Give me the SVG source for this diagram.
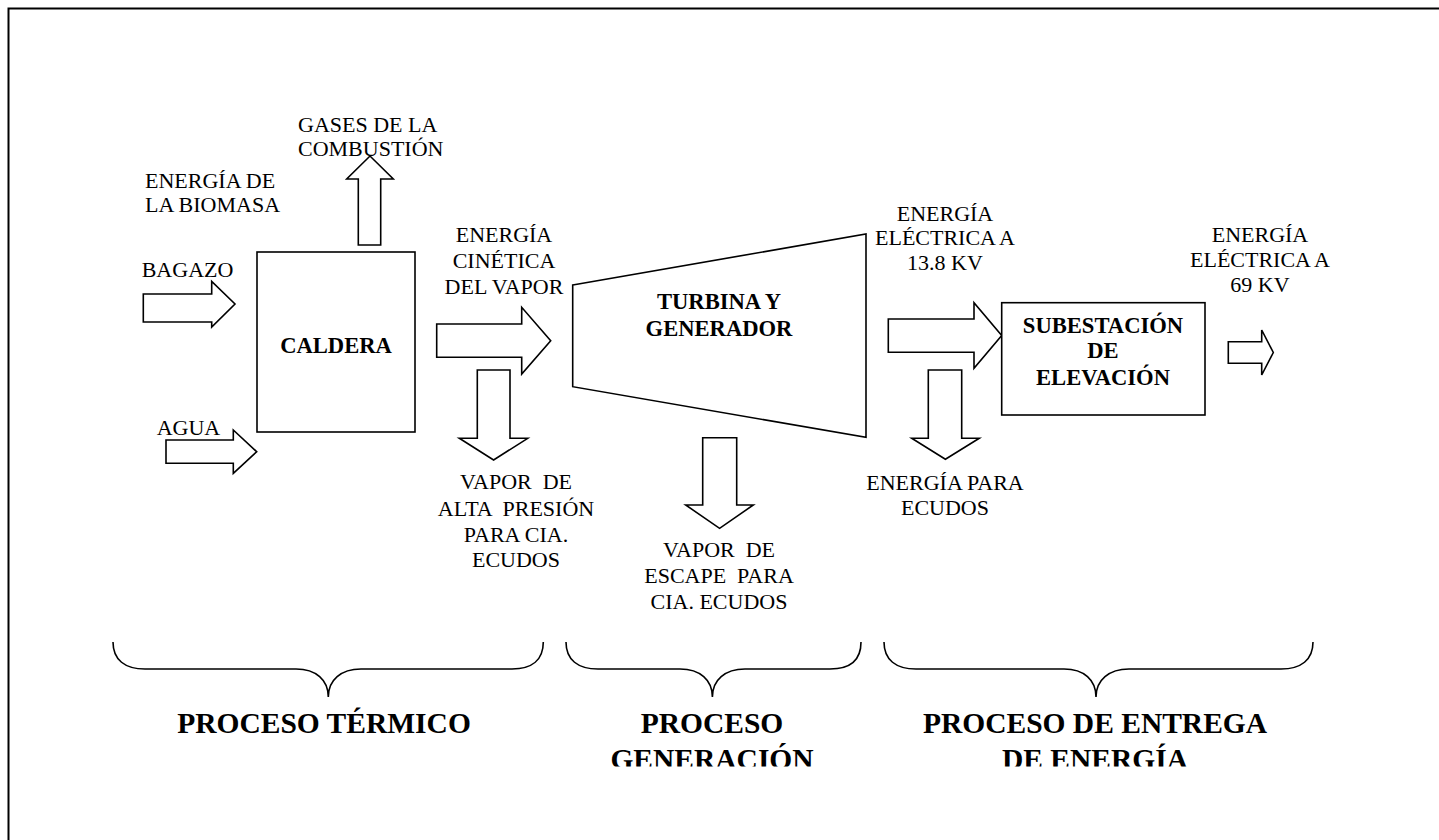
<svg xmlns="http://www.w3.org/2000/svg" width="1439" height="840" viewBox="0 0 1439 840">
<style>
.t{font-family:"Liberation Serif","Times New Roman",serif;font-size:22px;fill:#000}
.b{font-family:"Liberation Serif","Times New Roman",serif;font-size:22.6px;font-weight:bold;fill:#000}
.big{font-family:"Liberation Serif","Times New Roman",serif;font-size:29.5px;font-weight:bold;fill:#000}
.m{text-anchor:middle}
.shape{fill:#fff;stroke:#000;stroke-width:1.6}
.arr{fill:#fff;stroke:#000;stroke-width:1.6;stroke-linejoin:miter}
.brace{fill:none;stroke:#000;stroke-width:1.6}
</style>
<defs>
<clipPath id="clipBottom"><rect x="0" y="600" width="1439" height="166.5"/></clipPath>
</defs>
<rect width="1439" height="840" fill="#fff"/>
<path d="M8.5,840 V8.5 H1439" fill="none" stroke="#000" stroke-width="2"/>

<g id="connectors">
<polygon class="arr" points="358.3,245 358.3,179 346.7,179 370,156 393.3,179 380.7,179 380.7,245"/>
<polygon class="arr" points="143.3,294 211.7,294 211.7,281.5 235,304 211.7,327 211.7,322 143.3,322"/>
<polygon class="arr" points="166,440 233.3,440 233.3,430 256.7,451.7 233.3,473.3 233.3,463.3 166,463.3"/>
<polygon class="arr" points="436.7,324 521.7,324 521.7,307.3 550.7,340.7 521.7,374 521.7,357.3 436.7,357.3"/>
<polygon class="arr" points="477.3,370 510,370 510,438.3 527.7,438.3 493.6,460 459.3,438.3 477.3,438.3"/>
<polygon class="arr" points="702.7,437.7 736.7,437.7 736.7,505 753.3,505 719.6,528.3 685.7,505 702.7,505"/>
<polygon class="arr" points="888.3,319 974,319 974,302.7 1001.7,335.6 974,368.3 974,352.3 888.3,352.3"/>
<polygon class="arr" points="928.3,370 961.7,370 961.7,438.3 979.3,438.3 945.4,459.3 911.7,438.3 928.3,438.3"/>
<polygon class="arr" points="1228.3,341.7 1261.7,341.7 1261.7,330 1273.3,352.5 1261.7,375 1261.7,363.3 1228.3,363.3"/>
</g>

<g id="caldera">
<rect class="shape" x="257" y="252" width="158" height="180"/>
<text class="b m" x="336" y="353">CALDERA</text>
</g>

<g id="turbina">
<polygon class="shape" points="572.7,285 866,234 866,437.3 572.7,386.7"/>
<text class="b m" x="719" y="309.3">TURBINA Y</text>
<text class="b m" x="719" y="336">GENERADOR</text>
</g>

<g id="subestacion">
<rect class="shape" x="1001.7" y="302.7" width="203.3" height="112.3"/>
<text class="b m" x="1103" y="333.3">SUBESTACIÓN</text>
<text class="b m" x="1103" y="358.3">DE</text>
<text class="b m" x="1103" y="385">ELEVACIÓN</text>
</g>

<g id="labels">
<text class="t" x="298" y="131.7">GASES DE LA</text>
<text class="t" x="298" y="155.5">COMBUSTIÓN</text>
<text class="t" x="145" y="188">ENERGÍA DE</text>
<text class="t" x="145" y="211.7">LA BIOMASA</text>
<text class="t" x="141.7" y="276.7">BAGAZO</text>
<text class="t" x="156.7" y="435">AGUA</text>
<text class="t m" x="504" y="241.7">ENERGÍA</text>
<text class="t m" x="504" y="268.3">CINÉTICA</text>
<text class="t m" x="504" y="294.3">DEL VAPOR</text>
<text class="t m" x="516" y="489.3" xml:space="preserve">VAPOR  DE</text>
<text class="t m" x="516" y="516" xml:space="preserve">ALTA  PRESIÓN</text>
<text class="t m" x="516" y="541.7">PARA CIA.</text>
<text class="t m" x="516" y="566.7">ECUDOS</text>
<text class="t m" x="719" y="557.3" xml:space="preserve">VAPOR  DE</text>
<text class="t m" x="719" y="583" xml:space="preserve">ESCAPE  PARA</text>
<text class="t m" x="719" y="608.5">CIA. ECUDOS</text>
<text class="t m" x="945" y="220.5">ENERGÍA</text>
<text class="t m" x="945" y="245">ELÉCTRICA A</text>
<text class="t m" x="945" y="270">13.8 KV</text>
<text class="t m" x="945" y="490">ENERGÍA PARA</text>
<text class="t m" x="945" y="515">ECUDOS</text>
<text class="t m" x="1260" y="242">ENERGÍA</text>
<text class="t m" x="1260" y="266.7">ELÉCTRICA A</text>
<text class="t m" x="1260" y="291.7">69 KV</text>
</g>

<g id="braces">
<path class="brace" d="M113,642 C113,660 125,669 145,669 H296 C316,669 328.3,680 328.3,697 C328.3,680 341,669 361,669 H512 C532,669 543.3,660 543.3,642"/>
<path class="brace" d="M566,642 C566,660 578,669 598,669 H680 C700,669 712.4,680 712.4,697 C712.4,680 725,669 745,669 H830 C850,669 861,660 861,642"/>
<path class="brace" d="M884,642 C884,660 896,669 916,669 H1064 C1084,669 1096,680 1096,697 C1096,680 1109,669 1129,669 H1281 C1301,669 1313,660 1313,642"/>
</g>

<g id="process-labels" clip-path="url(#clipBottom)">
<text class="big m" x="324" y="733">PROCESO TÉRMICO</text>
<text class="big m" x="712" y="733">PROCESO</text>
<text class="big m" x="712" y="768.5">GENERACIÓN</text>
<text class="big m" x="1095" y="733">PROCESO DE ENTREGA</text>
<text class="big m" x="1095" y="768.5">DE ENERGÍA</text>
</g>
</svg>
